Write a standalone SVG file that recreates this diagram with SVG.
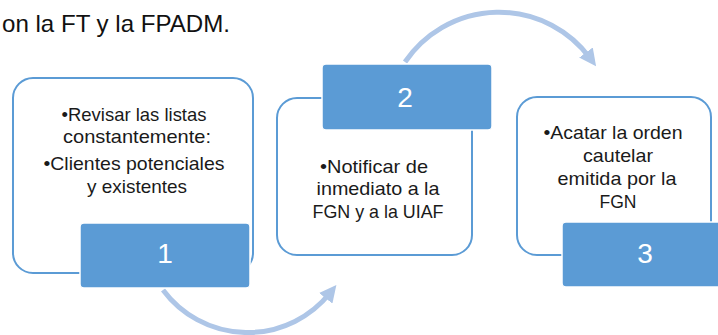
<svg xmlns="http://www.w3.org/2000/svg" width="718" height="335" viewBox="0 0 718 335">
  <defs>
    <style>
      .box { fill: #ffffff; stroke: #5b9bd5; stroke-width: 2; }
      .tab { fill: #5b9bd5; stroke: #ffffff; stroke-width: 1.5; }
      .body { font-family: "Liberation Sans", Arial, sans-serif; font-size: 18.5px; fill: #1a1a1a; text-anchor: middle; }
      .num { font-family: "Liberation Sans", Arial, sans-serif; font-size: 28px; fill: #ffffff; text-anchor: middle; }
      .head { font-family: "Liberation Sans", Arial, sans-serif; font-size: 24px; fill: #111111; }
      .arc { fill: none; stroke: #aec6e7; stroke-width: 5; }
    </style>
    <marker id="ah" viewBox="0 0 10 10" refX="4" refY="5" markerWidth="3.4" markerHeight="3.4" orient="auto" markerUnits="strokeWidth">
      <path d="M0,0 L10,5 L0,10 z" fill="#aec6e7"/>
    </marker>
  </defs>
  <rect width="718" height="335" fill="#ffffff"/>
  <text class="head" x="2" y="32" textLength="228" lengthAdjust="spacingAndGlyphs">on la FT y la FPADM.</text>

  <g id="connectors">
    <path class="arc" d="M163,290 A105.5,105.5 0 0 0 330,293" marker-end="url(#ah)"/>
    <path class="arc" d="M405,62 A113.4,113.4 0 0 1 590,58" marker-end="url(#ah)"/>
  </g>

  <g id="node1">
    <rect class="box" x="13" y="78" width="240" height="195" rx="20"/>
    <text class="body" x="134" y="121" textLength="145" lengthAdjust="spacingAndGlyphs">•Revisar las listas</text>
    <text class="body" x="137" y="143" textLength="148" lengthAdjust="spacingAndGlyphs">constantemente:</text>
    <text class="body" x="134" y="170" textLength="181" lengthAdjust="spacingAndGlyphs">•Clientes potenciales</text>
    <text class="body" x="137" y="193" textLength="100" lengthAdjust="spacingAndGlyphs">y existentes</text>
    <rect class="tab" x="80" y="223" width="170" height="65" rx="4"/>
    <text class="num" x="165" y="263">1</text>
  </g>

  <g id="node2">
    <rect class="box" x="277" y="98" width="195" height="157" rx="20"/>
    <rect class="tab" x="322" y="64" width="170" height="66" rx="4"/>
    <text class="num" x="405" y="107">2</text>
    <text class="body" x="374" y="173" textLength="108" lengthAdjust="spacingAndGlyphs">•Notificar de</text>
    <text class="body" x="378" y="195" textLength="123" lengthAdjust="spacingAndGlyphs">inmediato a la</text>
    <text class="body" x="378" y="218" textLength="131" lengthAdjust="spacingAndGlyphs">FGN y a la UIAF</text>
  </g>

  <g id="node3">
    <rect class="box" x="517" y="97" width="194" height="158" rx="20"/>
    <text class="body" x="613" y="139" textLength="139" lengthAdjust="spacingAndGlyphs">•Acatar la orden</text>
    <text class="body" x="618" y="162" textLength="70" lengthAdjust="spacingAndGlyphs">cautelar</text>
    <text class="body" x="617" y="185" textLength="119" lengthAdjust="spacingAndGlyphs">emitida por la</text>
    <text class="body" x="618" y="208" textLength="37" lengthAdjust="spacingAndGlyphs">FGN</text>
    <rect class="tab" x="562" y="222" width="170" height="65" rx="4"/>
    <text class="num" x="645" y="263">3</text>
  </g>
</svg>
